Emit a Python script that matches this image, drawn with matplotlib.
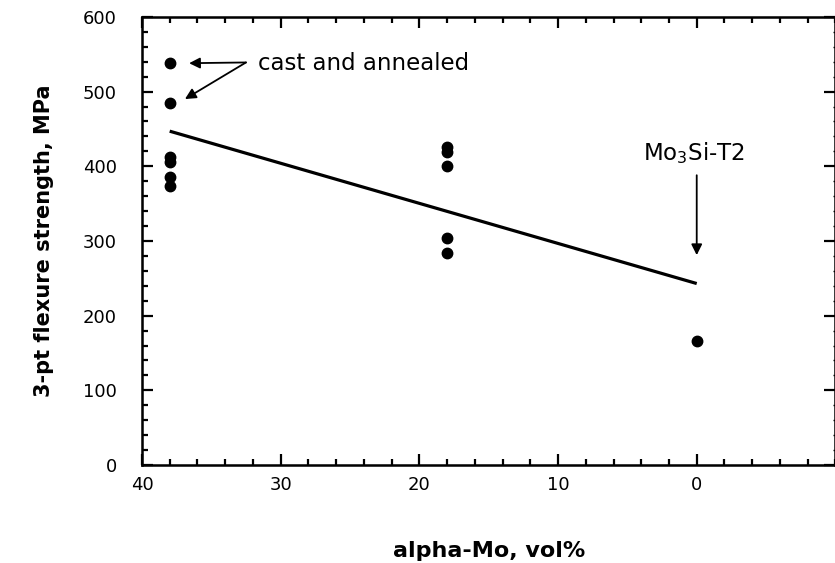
import matplotlib.pyplot as plt
from matplotlib.ticker import MultipleLocator

# flexure strength vs. alpha-Mo content
alpha_mo = [38, 38, 38, 38, 38, 38, 18, 18, 18, 18, 18, 0]
strength = [538, 485, 412, 406, 386, 374, 426, 419, 400, 304, 284, 166]

# linear fit drawn across the data range
fit_x = [38, 0]
fit_y = [447, 243]

fig = plt.figure(figsize=(8.35, 5.63), dpi=100)
ax = fig.add_axes([0.170, 0.174, 0.8305, 0.796])

ax.plot(fit_x, fit_y, color='black', linewidth=2.3, solid_capstyle='butt')
ax.plot(alpha_mo, strength, 'o', color='black', markersize=7.5)

ax.set_xlim(40, -10)
ax.set_ylim(0, 600)
ax.xaxis.set_major_locator(MultipleLocator(10))
ax.xaxis.set_minor_locator(MultipleLocator(2))
ax.yaxis.set_major_locator(MultipleLocator(100))
ax.yaxis.set_minor_locator(MultipleLocator(20))
ax.set_xticks([40, 30, 20, 10, 0])

for s in ax.spines.values():
    s.set_linewidth(1.8)

ax.tick_params(which='both', direction='in', top=True, right=False, width=1.6)
ax.tick_params(which='major', length=8)
ax.tick_params(which='minor', length=4.5)
ax.tick_params(axis='y', labelsize=13, pad=18)
ax.tick_params(axis='x', labelsize=13, pad=8)

# right side gets only tiny minor ticks
ax2 = ax.twinx()
ax2.set_ylim(ax.get_ylim())
ax2.yaxis.set_major_locator(MultipleLocator(100))
ax2.yaxis.set_minor_locator(MultipleLocator(20))
ax2.tick_params(which='both', direction='in', labelright=False, width=1.6)
ax2.tick_params(which='major', length=8)
ax2.tick_params(which='minor', length=1.2, width=1)

ax.set_xlabel('alpha-Mo, vol%', fontsize=16, fontweight='bold', labelpad=34)
ax.set_ylabel('3-pt flexure strength, MPa', fontsize=15, fontweight='bold', labelpad=21)

arrow = dict(arrowstyle='-|>', color='black', lw=1.3, mutation_scale=16,
             shrinkA=0, shrinkB=0)
ax.annotate('', xy=(36.6, 538), xytext=(32.5, 539), arrowprops=arrow)
ax.annotate('', xy=(36.9, 490), xytext=(32.5, 539), arrowprops=arrow)
ax.text(31.6, 538, 'cast and annealed', fontsize=16.5, va='center', ha='left')

ax.annotate('', xy=(0, 281), xytext=(0, 388), arrowprops=arrow)
ax.text(0.2, 400, 'Mo$_3$Si-T2', fontsize=16.5, va='bottom', ha='center')

fig.savefig('out.png', dpi=100)
